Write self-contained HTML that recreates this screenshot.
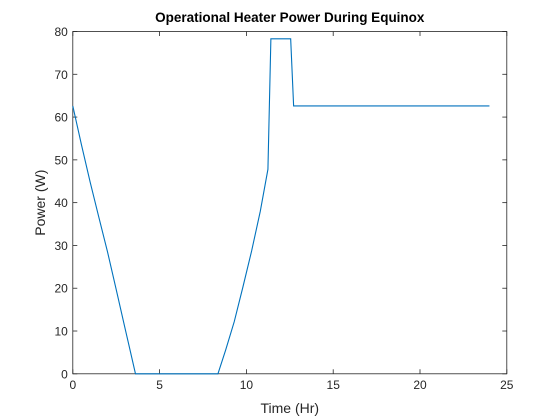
<!DOCTYPE html>
<html><head><meta charset="utf-8"><style>
body{margin:0;background:#fff;}
svg{display:block;font-family:"Liberation Sans",Arial,sans-serif;}
</style></head><body>
<svg id="chart" width="560" height="420" viewBox="0 0 560 420">
<rect x="0" y="0" width="560" height="420" fill="#fff"/>
<g id="plot"></g>
</svg>
<script>
const xTicks=[0,5,10,15,20,25];
const yTicks=[0,10,20,30,40,50,60,70,80];
const timeHr=[0,0.5,1,1.5,2,2.5,3,3.3,3.61,8.36,8.8,9.3,9.8,10.3,10.8,11.24,11.41,12.55,12.72,24];
const powerW=[62.6,53.5,44.8,36.6,28.5,19.7,10.8,5.5,0,0,5.5,12.2,20.3,28.7,38,47.8,78.3,78.3,62.6,62.6];
const L=72.8,R=506.8,T=31.5,B=373.8;
const xMin=0,xMax=25,yMin=0,yMax=80;
const sx=v=>L+(v-xMin)/(xMax-xMin)*(R-L);
const sy=v=>B-(v-yMin)/(yMax-yMin)*(B-T);
const NS='http://www.w3.org/2000/svg';
const g=document.getElementById('plot');
function mk(t,a){const e=document.createElementNS(NS,t);for(const k in a)e.setAttribute(k,a[k]);g.appendChild(e);return e;}
let e=mk('rect',{x:L,y:T,width:R-L,height:B-T,fill:'#fff',stroke:'#262626','stroke-width':0.8});


xTicks.forEach(v=>{
  const x=sx(v);
  let t=mk('line',{x1:x,x2:x,y1:B,y2:B-4.5,stroke:'#262626','stroke-width':0.8});
  
  
  t=mk('line',{x1:x,x2:x,y1:T,y2:T+4.5,stroke:'#262626','stroke-width':0.8});
  
  
  const l=mk('text',{x:x,y:B+15,'text-anchor':'middle','font-size':12,fill:'#262626'});
  l.textContent=v;
  
  
});
yTicks.forEach(v=>{
  const y=sy(v);
  let t=mk('line',{x1:L,x2:L+4.5,y1:y,y2:y,stroke:'#262626','stroke-width':0.8});
  
  
  t=mk('line',{x1:R,x2:R-4.5,y1:y,y2:y,stroke:'#262626','stroke-width':0.8});
  
  
  const l=mk('text',{x:L-5,y:y+4.5,'text-anchor':'end','font-size':12,fill:'#262626'});
  l.textContent=v;
  
  
});
const pts=timeHr.map((t,i)=>sx(t).toFixed(2)+','+sy(powerW[i]).toFixed(2)).join(' ');
const line=mk('polyline',{points:pts,fill:'none',stroke:'#0072bd','stroke-width':1.1});


let tt=mk('text',{x:(L+R)/2,y:22,'text-anchor':'middle','font-size':13.5,'font-weight':'bold',fill:'#000'});
tt.textContent='Operational Heater Power During Equinox';


let xl=mk('text',{x:(L+R)/2,y:413,'text-anchor':'middle','font-size':14,fill:'#262626'});
xl.textContent='Time (Hr)';


let yl=mk('text',{x:0,y:0,'text-anchor':'middle','font-size':14,fill:'#262626',transform:'translate(45,'+((T+B)/2)+') rotate(-90)'});
yl.textContent='Power (W)';


</script>
</body></html>
